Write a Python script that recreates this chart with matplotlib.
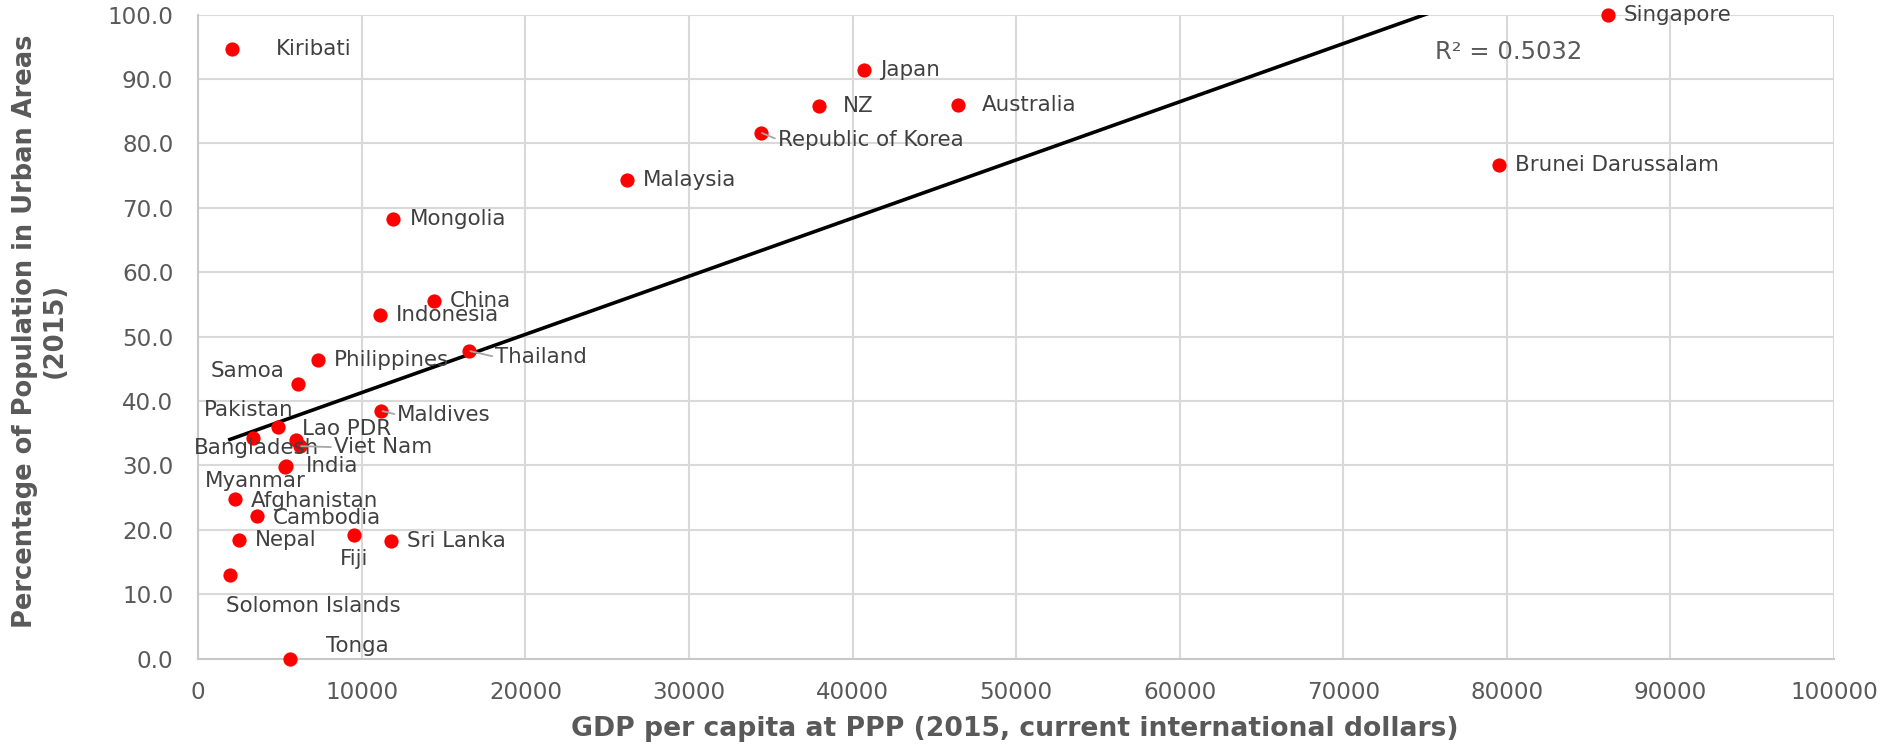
import numpy as np
import matplotlib
matplotlib.use("Agg")
import matplotlib.pyplot as plt

# data
countries = ["Kiribati", "Singapore", "Japan", "NZ", "Australia",
             "Republic of Korea", "Brunei Darussalam", "Malaysia", "Mongolia",
             "China", "Indonesia", "Thailand", "Philippines", "Samoa",
             "Maldives", "Pakistan", "Lao PDR", "Bangladesh", "Viet Nam",
             "India", "Myanmar", "Afghanistan", "Cambodia", "Nepal", "Fiji",
             "Sri Lanka", "Solomon Islands", "Tonga"]
gdp_ppp = [2080, 86160, 40700, 37960, 46470,
           34380, 79500, 26200, 11930,
           14380, 11130, 16550, 7320, 6100,
           11180, 4890, 6000, 3320, 6200,
           5360, 5330, 2260, 3590, 2510, 9540,
           11760, 1930, 5600]
urban_pct = [94.6, 100.0, 91.4, 85.8, 85.9,
             81.7, 76.7, 74.3, 68.3,
             55.6, 53.4, 47.8, 46.3, 42.7,
             38.5, 36.0, 34.0, 34.3, 33.0,
             29.9, 29.8, 24.8, 22.2, 18.5, 19.2,
             18.3, 13.0, 0.0]
r2_text = "R² = 0.5032"
x_ticks = list(range(0, 100001, 10000))
y_ticks = [0, 10, 20, 30, 40, 50, 60, 70, 80, 90, 100]

# label placement: (dx px, dy px, ha) relative to the dot, dy up positive
label_pos = {
    "Kiribati": (44, 0, "left"), "Samoa": (-14, 13, "right"),
    "Republic of Korea": (17, -7, "left"), "NZ": (24, 0, "left"),
    "Australia": (23, 0, "left"), "Thailand": (26, -6, "left"),
    "Maldives": (16, -4, "left"), "Pakistan": (-74, 17, "left"),
    "Lao PDR": (6, 11, "left"), "Bangladesh": (-59, -10, "left"),
    "Viet Nam": (34, -1, "left"), "Myanmar": (-81, -14, "left"),
    "Afghanistan": (16, -2, "left"), "Cambodia": (16, -2, "left"),
    "Fiji": (0, -24, "center"), "Solomon Islands": (-4, -31, "left"),
    "Tonga": (36, 13, "left"), "India": (20, 0, "left"),
}
leaders = {"Republic of Korea", "Thailand", "Maldives", "Viet Nam"}

LABEL_C = "#404040"
AXIS_C = "#595959"
GRID_C = "#d9d9d9"

fig = plt.figure(figsize=(18.83, 7.52), dpi=100)
ax = fig.add_axes([0.1053, 0.1241, 0.8687, 0.8564])

ax.set_xlim(0, 100000)
ax.set_ylim(0, 100)
ax.set_xticks(x_ticks)
ax.set_yticks(y_ticks)
ax.set_yticklabels([f"{v:.1f}" for v in y_ticks])
ax.tick_params(axis="both", length=0, labelsize=16.6, colors=AXIS_C)
ax.tick_params(axis="y", pad=18)
ax.tick_params(axis="x", pad=16)
ax.grid(True, color=GRID_C, linewidth=1.5)
ax.set_axisbelow(True)
for side in ["top", "right"]:
    ax.spines[side].set_visible(False)
for side in ["left", "bottom"]:
    ax.spines[side].set_color("#c8c8c8")
    ax.spines[side].set_linewidth(1.5)

x = np.array(gdp_ppp, dtype=float)
y = np.array(urban_pct, dtype=float)

# linear trendline
slope, intercept = np.polyfit(x, y, 1)
xs = np.array([x.min(), x.max()])
ax.plot(xs, slope * xs + intercept, color="black", linewidth=2.6, zorder=2)

ax.scatter(x, y, s=105, color="#ff0000", zorder=3, clip_on=False,
           linewidths=0)

for name, xi, yi in zip(countries, x, y):
    dx, dy, ha = label_pos.get(name, (16, 0, "left"))
    arrow = None
    if name in leaders:
        arrow = dict(arrowstyle="-", color="#a6a6a6", lw=1.3,
                     shrinkA=0, shrinkB=1, relpos=(0, 0.5))
    ax.annotate(name, (xi, yi), xytext=(dx, dy), textcoords="offset pixels",
                ha=ha, va="center", fontsize=15.4, color=LABEL_C,
                arrowprops=arrow, zorder=4, annotation_clip=False)

ax.text(0.756, 0.942, r2_text, transform=ax.transAxes, fontsize=17.5,
        color=AXIS_C, ha="left", va="center")

fig.text(0.5388, 0.0306,
         "GDP per capita at PPP (2015, current international dollars)",
         ha="center", va="center", fontsize=19.2, fontweight="bold",
         color=AXIS_C)
fig.text(0.0212, 0.56, "Percentage of Population in Urban Areas\n(2015)",
         rotation=90, ha="center", va="center", multialignment="center",
         fontsize=18.5, fontweight="bold", color=AXIS_C, linespacing=1.15)

fig.savefig("out.png", dpi=100)
